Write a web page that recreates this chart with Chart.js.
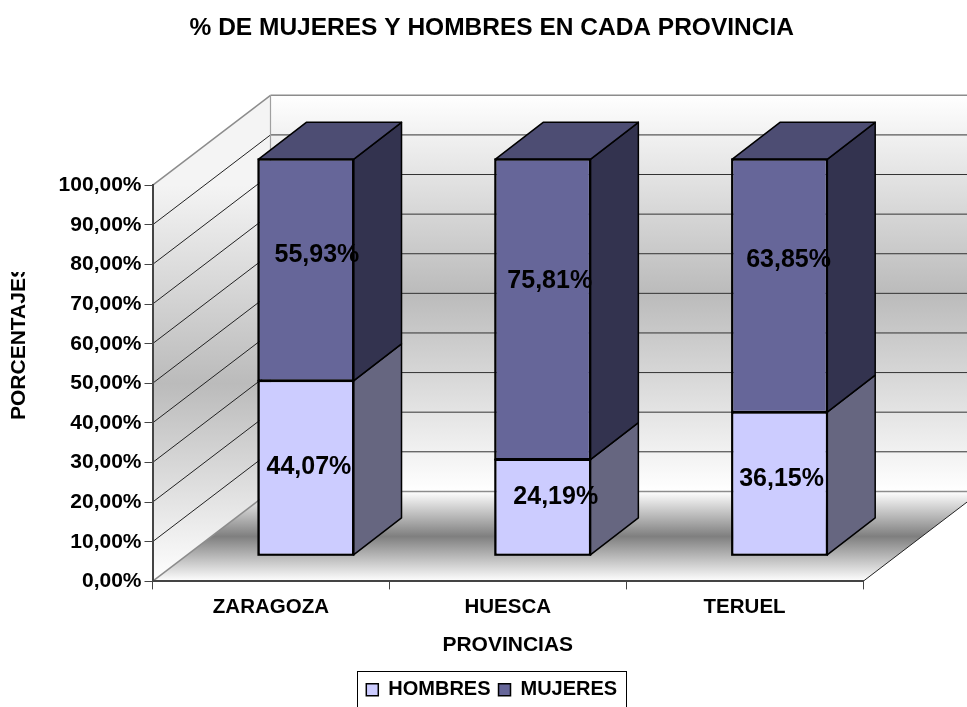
<!DOCTYPE html>
<html><head><meta charset="utf-8">
<script src="https://cdn.jsdelivr.net/npm/chart.js@4"></script>
<style>html,body{margin:0;padding:0;background:#fff;overflow:hidden}#w{width:967px;height:707px}</style>
</head><body><div id="w"><canvas id="c"></canvas></div>
<script>
const provincias = ['ZARAGOZA','HUESCA','TERUEL'];
const hombres = [44.07,24.19,36.15];
const mujeres = [55.93,75.81,63.85];
const FF = '"Liberation Sans", Arial, sans-serif';
const fmt = v => v.toFixed(2).replace('.',',') + '%';

const WALL = {dx:118, dy:-90};
const BAR_PLANE = {dx:35, dy:-26};
const BAR_DEPTH = {dx:48, dy:-37};
const SIDE = ['#666680','#33334f'];
const TOP = '#4d4d73';
const NUDGE = [[[3,-1],[13,-10],[2,-4]],[[11,-15],[7,-28],[9,-26]]];

function poly(ctx, pts, fill, stroke, lw){
  ctx.beginPath();
  pts.forEach((p,i)=> i?ctx.lineTo(p[0],p[1]):ctx.moveTo(p[0],p[1]));
  ctx.closePath();
  if(fill){ctx.fillStyle=fill;ctx.fill();}
  if(stroke){ctx.strokeStyle=stroke;ctx.lineWidth=lw;ctx.lineJoin='round';ctx.stroke();}
}
function line(ctx,a,b,c,w){ctx.beginPath();ctx.moveTo(a[0],a[1]);ctx.lineTo(b[0],b[1]);ctx.strokeStyle=c;ctx.lineWidth=w;ctx.stroke();}

const threeD = {
  id:'threeD',
  beforeDraw(chart){
    const {ctx,chartArea:a,scales:{y}} = chart;
    const L=a.left,R=a.right,T=y.getPixelForValue(100),B=y.getPixelForValue(0);
    const d=WALL;
    ctx.save();
    let g=ctx.createLinearGradient(0,T+d.dy,0,B+d.dy);
    g.addColorStop(0,'#ffffff');g.addColorStop(.5,'#bbbbbb');g.addColorStop(1,'#ffffff');
    poly(ctx,[[L+d.dx,T+d.dy],[R+d.dx,T+d.dy],[R+d.dx,B+d.dy],[L+d.dx,B+d.dy]],g);
    g=ctx.createLinearGradient(0,T,0,B);
    g.addColorStop(0,'#f4f4f4');g.addColorStop(.5,'#bbbbbb');g.addColorStop(1,'#ffffff');
    poly(ctx,[[L,T],[L+d.dx,T+d.dy],[L+d.dx,B+d.dy],[L,B]],g);
    g=ctx.createLinearGradient(0,B+d.dy,0,B);
    g.addColorStop(0,'#ffffff');g.addColorStop(.5,'#7f7f7f');g.addColorStop(1,'#ffffff');
    poly(ctx,[[L,B],[R,B],[R+d.dx,B+d.dy],[L+d.dx,B+d.dy]],g);
    y.ticks.forEach(t=>{
      const p=y.getPixelForValue(t.value);
      const edge=t.value===0||t.value===100;
      const c=edge?'#8c8c8c':'#222', w=edge?1.5:1;
      line(ctx,[L,p],[L+d.dx,p+d.dy],c,w);
      line(ctx,[L+d.dx,p+d.dy],[R+d.dx,p+d.dy],edge?'#8c8c8c':'#333',w);
    });
    line(ctx,[L+d.dx,T+d.dy],[L+d.dx,B+d.dy],'#a0a0a0',1.2);
    line(ctx,[R,B],[R+d.dx,B+d.dy],'#222',1);
    ctx.restore();
  },
  beforeDatasetsDraw(chart){
    const ctx=chart.ctx, o=BAR_PLANE, q=BAR_DEPTH;
    ctx.save();
    chart.data.datasets.forEach((ds,di)=>{
      chart.getDatasetMeta(di).data.forEach(el=>{
        const r=el.x+el.width/2+o.dx, l=el.x-el.width/2+o.dx, t=el.y+o.dy, b=el.base+o.dy;
        poly(ctx,[[r,t],[r+q.dx,t+q.dy],[r+q.dx,b+q.dy],[r,b]],SIDE[di],'#000',1.5);
        if(di===chart.data.datasets.length-1)
          poly(ctx,[[l,t],[l+q.dx,t+q.dy],[r+q.dx,t+q.dy],[r,t]],TOP,'#000',1.5);
      });
    });
    ctx.restore();
    ctx.save();
    ctx.translate(o.dx,o.dy);
  },
  afterDatasetsDraw(chart){
    const ctx=chart.ctx;
    // single crisp outline over each bar segment, still in the bar plane
    ctx.strokeStyle='#000';ctx.lineWidth=1.8;
    chart.data.datasets.forEach((ds,di)=>{
      chart.getDatasetMeta(di).data.forEach(el=>{
        ctx.strokeRect(el.x-el.width/2,el.y,el.width,el.base-el.y);
      });
    });
    ctx.restore();
    ctx.save();
    ctx.font='bold 25px '+FF;
    ctx.fillStyle='#000';ctx.textAlign='center';ctx.textBaseline='middle';
    chart.data.datasets.forEach((ds,di)=>{
      chart.getDatasetMeta(di).data.forEach((el,i)=>{
        const n=NUDGE[di][i];
        ctx.fillText(fmt(ds.data[i]), el.x+BAR_PLANE.dx+n[0], (el.y+el.base)/2+BAR_PLANE.dy+n[1]);
      });
    });
    ctx.restore();
  },
  afterDraw(chart){
    const ctx=chart.ctx;
    ctx.save();
    // clipped vertical axis title
    ctx.beginPath();ctx.rect(0,272,40,200);ctx.clip();
    ctx.translate(19.5,420);ctx.rotate(-Math.PI/2);
    ctx.font='bold 21px '+FF;ctx.fillStyle='#000';ctx.textAlign='left';ctx.textBaseline='middle';
    ctx.fillText('PORCENTAJES',0,0);
    ctx.restore();
    // legend frame
    const hb=chart.legend.legendHitBoxes;
    const x0=hb[0].left-9, x1=hb[hb.length-1].left+hb[hb.length-1].width+9, y0=hb[0].top-9;
    ctx.save();ctx.strokeStyle='#000';ctx.lineWidth=1;
    ctx.strokeRect(Math.round(x0)+.5,Math.round(y0)+.5,Math.round(x1-x0),60);
    ctx.restore();
  }
};

new Chart(document.getElementById('c'),{
  type:'bar',
  data:{labels:provincias,datasets:[
    {label:'HOMBRES',data:hombres,backgroundColor:'#ccccff',borderColor:'#000',borderWidth:1.5,borderSkipped:false,clip:false},
    {label:'MUJERES',data:mujeres,backgroundColor:'#666699',borderColor:'#000',borderWidth:1.5,borderSkipped:false,clip:false}
  ]},
  plugins:[threeD],
  options:{
    responsive:true,maintainAspectRatio:false,animation:false,
    layout:{padding:{left:16.5,right:0,top:0,bottom:-2.7}},
    datasets:{bar:{categoryPercentage:1,barPercentage:0.402}},
    plugins:{
      tooltip:{enabled:false},
      title:{display:true,text:'% DE MUJERES Y HOMBRES EN CADA PROVINCIA',color:'#000',
        font:{family:FF,size:24.5,weight:'bold'},padding:{top:14,bottom:141.9}},
      legend:{position:'bottom',onClick:null,
        labels:{font:{family:FF,size:20,weight:'bold'},color:'#000',boxWidth:12,boxHeight:12,padding:8}}
    },
    scales:{
      x:{stacked:true,
        grid:{drawOnChartArea:false,tickLength:8,color:'#444',offset:true},
        border:{color:'#444',width:2},
        ticks:{color:'#000',font:{family:FF,size:20.5,weight:'bold'},padding:6,maxRotation:0},
        title:{display:true,text:'PROVINCIAS',color:'#000',font:{family:FF,size:21,weight:'bold'},padding:{top:0,bottom:14}},
        afterFit(s){s.height=90.3;}
      },
      y:{stacked:true,min:0,max:100,
        grid:{drawOnChartArea:false,tickLength:8,color:'#444'},
        border:{color:'#444',width:2},
        ticks:{stepSize:10,color:'#000',font:{family:FF,size:21,weight:'bold'},padding:3,callback:v=>fmt(v)},
        afterFit(s){s.width=136;}
      },
      yR:{type:'linear',position:'right',display:true,
        grid:{display:false},border:{display:false},ticks:{display:false},
        afterFit(s){s.width=104;}
      }
    }
  }
});
</script></body></html>
